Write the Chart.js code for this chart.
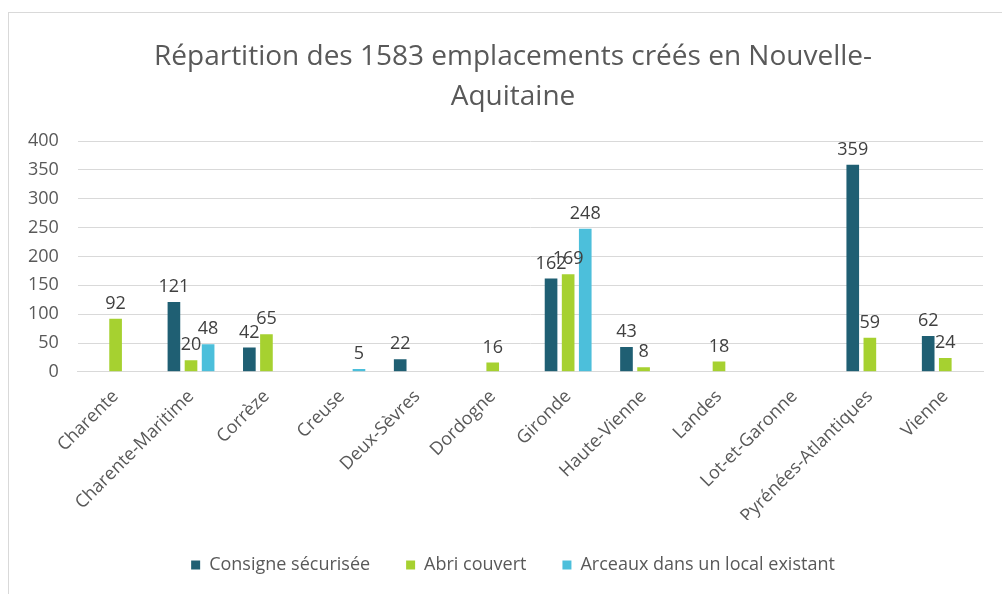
<!DOCTYPE html>
<html lang="fr">
<head>
    <meta charset="UTF-8">
    <title>Répartition des emplacements</title>
    <script src="https://cdn.jsdelivr.net/npm/chart.js"></script>
    <style>
        html, body {
            margin: 0;
            padding: 0;
            background: #fff;
            overflow: hidden;
        }
        .frame {
            position: absolute;
            left: 8px;
            top: 12px;
            width: 1010px;
            height: 590px;
            border: 1px solid #d9d9d9;
            box-sizing: border-box;
        }
        .frame canvas {
            position: absolute;
            left: 0;
            top: 0;
        }
    </style>
</head>
<body>
    <div class="frame">
        <canvas id="chart" width="1008" height="588"></canvas>
    </div>

    <script>
        const departements = ["Charente", "Charente-Maritime", "Corrèze", "Creuse", "Deux-Sèvres", "Dordogne",
            "Gironde", "Haute-Vienne", "Landes", "Lot-et-Garonne", "Pyrénées-Atlantiques", "Vienne"];
        const consigne = [null, 121, 42, null, 22, null, 162, 43, null, null, 359, 62];
        const abri = [92, 20, 65, null, null, 16, 169, 8, 18, null, 59, 24];
        const arceaux = [null, 48, null, 5, null, null, 248, null, null, null, null, null];
        const yTicks = [0, 50, 100, 150, 200, 250, 300, 350, 400];

        const fontFamily = "'Open Sans', 'Noto Sans', sans-serif";
        const textColor = "#595959";

        // draw the value above each bar (no datalabels plugin offline)
        const valueLabels = {
            id: "valueLabels",
            afterDatasetsDraw(chart) {
                const ctx = chart.ctx;
                ctx.save();
                ctx.font = "18px " + fontFamily;
                ctx.fillStyle = "#404040";
                ctx.textAlign = "center";
                ctx.textBaseline = "bottom";
                chart.data.datasets.forEach((ds, i) => {
                    const meta = chart.getDatasetMeta(i);
                    meta.data.forEach((bar, j) => {
                        const v = ds.data[j];
                        if (v === null || v === undefined) return;
                        ctx.fillText(String(v), bar.x, bar.y - 6);
                    });
                });
                ctx.restore();
            }
        };

        new Chart(document.getElementById("chart"), {
            type: "bar",
            data: {
                labels: departements,
                datasets: [
                    { label: "Consigne sécurisée", data: consigne, backgroundColor: "#1f5f73" },
                    { label: "Abri couvert", data: abri, backgroundColor: "#a6d130" },
                    { label: "Arceaux dans un local existant", data: arceaux, backgroundColor: "#4cbfdb" }
                ]
            },
            options: {
                responsive: false,
                animation: false,
                layout: { padding: { left: 0, right: 0, top: 18, bottom: 17 } },
                datasets: {
                    bar: { categoryPercentage: 0.68, barPercentage: 0.74 }
                },
                plugins: {
                    title: {
                        display: true,
                        text: ["Répartition des 1583 emplacements créés en Nouvelle-", "Aquitaine"],
                        color: textColor,
                        font: { family: fontFamily, size: 28, weight: "normal", lineHeight: 1.43 },
                        padding: { top: 6, bottom: 24 }
                    },
                    legend: {
                        position: "bottom",
                        labels: {
                            color: textColor,
                            font: { family: fontFamily, size: 18 },
                            boxWidth: 9,
                            boxHeight: 9,
                            padding: 36
                        }
                    },
                    tooltip: { enabled: false }
                },
                scales: {
                    x: {
                        grid: { display: false },
                        border: { color: "#d9d9d9" },
                        // labels may run into the empty space above the legend
                        afterFit: scale => { scale.height -= 13; },
                        ticks: {
                            color: textColor,
                            font: { family: fontFamily, size: 18 },
                            minRotation: 45,
                            maxRotation: 45,
                            autoSkip: false,
                            padding: 6
                        }
                    },
                    y: {
                        min: 0,
                        max: 400,
                        afterBuildTicks: axis => { axis.ticks = yTicks.map(v => ({ value: v })); },
                        grid: { color: "#d9d9d9", drawTicks: false },
                        border: { display: false },
                        ticks: {
                            color: textColor,
                            font: { family: fontFamily, size: 18 },
                            padding: 19
                        }
                    },
                    // empty right margin so title and legend stay centred on the frame
                    yRight: {
                        position: "right",
                        grid: { display: false },
                        border: { display: false },
                        ticks: { display: false },
                        afterFit: scale => { scale.width = 34; }
                    }
                }
            },
            plugins: [valueLabels]
        });
    </script>
</body>
</html>
